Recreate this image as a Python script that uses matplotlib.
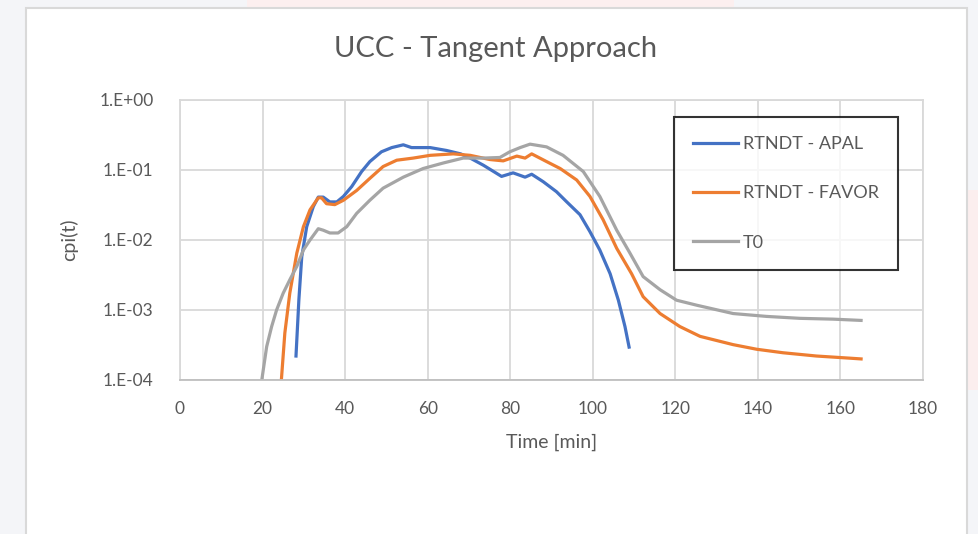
import matplotlib
matplotlib.use("Agg")
import matplotlib.pyplot as plt
from matplotlib.patches import Rectangle

plt.rcParams['font.family'] = ['Lato', 'DejaVu Sans']

# RTNDT - APAL
t_apal = [28.1, 28.8, 29.5, 30.7, 32.3, 33.5, 34.7, 36.3, 38.0, 39.6, 41.6, 44.0,
          46.0, 48.8, 51.3, 54.1, 56.1, 60.6, 64.6, 68.0, 70.3, 73.5, 77.9, 80.7,
          83.6, 85.2, 88.0, 91.2, 93.7, 96.9, 99.3, 101.7, 104.2, 106.2, 107.8, 108.8]
cpi_apal = [2.2e-4, 1.4e-3, 5.8e-3, 1.55e-2, 3.0e-2, 4.1e-2, 4.1e-2, 3.5e-2, 3.5e-2,
            4.2e-2, 5.8e-2, 9.5e-2, 1.32e-1, 1.82e-1, 2.09e-1, 2.29e-1, 2.09e-1,
            2.09e-1, 1.9e-1, 1.7e-1, 1.48e-1, 1.17e-1, 8.1e-2, 9.1e-2, 7.9e-2, 8.7e-2,
            6.8e-2, 4.9e-2, 3.5e-2, 2.3e-2, 1.32e-2, 7.2e-3, 3.3e-3, 1.38e-3, 5.8e-4,
            2.95e-4]

# RTNDT - FAVOR
t_favor = [24.5, 25.4, 26.6, 28.3, 29.9, 31.5, 33.5, 34.3, 35.5, 37.5, 39.6, 42.8,
           46.0, 49.2, 52.5, 56.5, 60.6, 66.2, 70.3, 75.1, 78.3, 81.6, 83.6, 85.2,
           88.8, 92.1, 96.1, 99.3, 102.5, 105.8, 109.4, 112.2, 116.3, 121.1, 126.0,
           134.0, 139.7, 146.1, 154.2, 162.3, 165.0]
cpi_favor = [9.0e-5, 4.7e-4, 1.74e-3, 6.5e-3, 1.55e-2, 2.7e-2, 4.0e-2, 4.0e-2, 3.3e-2,
             3.2e-2, 3.7e-2, 5.1e-2, 7.6e-2, 1.12e-1, 1.38e-1, 1.48e-1, 1.62e-1,
             1.7e-1, 1.62e-1, 1.41e-1, 1.35e-1, 1.58e-1, 1.48e-1, 1.7e-1, 1.32e-1,
             1.05e-1, 7.2e-2, 4.2e-2, 1.95e-2, 7.6e-3, 3.3e-3, 1.55e-3, 8.9e-4, 5.8e-4,
             4.2e-4, 3.2e-4, 2.75e-4, 2.45e-4, 2.2e-4, 2.05e-4, 2.0e-4]

# T0
t_t0 = [19.7, 21.0, 22.2, 23.4, 25.0, 26.6, 28.3, 29.9, 31.5, 33.5, 34.7, 36.3, 38.3,
        40.4, 42.8, 46.0, 49.2, 54.1, 58.9, 63.8, 68.6, 73.5, 77.5, 79.9, 82.4, 84.8,
        88.8, 92.8, 97.7, 101.7, 105.8, 109.0, 112.2, 116.3, 120.3, 125.2, 134.0,
        142.1, 150.2, 158.3, 165.0]
cpi_t0 = [9.0e-5, 3.0e-4, 5.8e-4, 1.0e-3, 1.74e-3, 2.7e-3, 4.2e-3, 7.2e-3, 1.0e-2,
          1.45e-2, 1.38e-2, 1.26e-2, 1.26e-2, 1.55e-2, 2.4e-2, 3.7e-2, 5.5e-2, 7.9e-2,
          1.05e-1, 1.26e-1, 1.48e-1, 1.48e-1, 1.51e-1, 1.82e-1, 2.09e-1, 2.34e-1,
          2.14e-1, 1.62e-1, 9.5e-2, 4.2e-2, 1.38e-2, 6.5e-3, 3.0e-3, 1.95e-3, 1.38e-3,
          1.17e-3, 8.9e-4, 8.1e-4, 7.6e-4, 7.4e-4, 7.1e-4]

x_ticks = [0, 20, 40, 60, 80, 100, 120, 140, 160, 180]
y_ticks = [1e-4, 1e-3, 1e-2, 1e-1, 1e0]
y_ticklabels = ['1.E-04', '1.E-03', '1.E-02', '1.E-01', '1.E+00']

W, H = 979, 534
fig = plt.figure(figsize=(W / 100, H / 100), dpi=100)
fig.patch.set_facecolor('#f4f5f8')

# faint background pieces around the chart object
fig.patches.append(Rectangle((247 / W, 1 - 8 / H), (734 - 247) / W, 8 / H,
                             transform=fig.transFigure, facecolor='#fcefef',
                             edgecolor='none', zorder=-3))
fig.patches.append(Rectangle((968 / W, 1 - 390 / H), 11 / W, 200 / H,
                             transform=fig.transFigure, facecolor='#fbeeee',
                             edgecolor='none', zorder=-3))
# chart area
fig.patches.append(Rectangle((26 / W, -0.01), (967 - 26) / W, 1 - 8 / H + 0.01,
                             transform=fig.transFigure, facecolor='white',
                             edgecolor='#d9d9d9', linewidth=1.5, zorder=-2))

ax = fig.add_axes([180 / W, 1 - 380 / H, (923 - 180) / W, 280 / H])
ax.set_facecolor('white')

ax.plot(t_apal, cpi_apal, color='#4472c4', lw=2.3, label='RTNDT - APAL')
ax.plot(t_favor, cpi_favor, color='#ed7d31', lw=2.3, label='RTNDT - FAVOR')
ax.plot(t_t0, cpi_t0, color='#a5a5a5', lw=2.3, label='T0')

ax.set_yscale('log')
ax.set_xlim(0, 180)
ax.set_ylim(1e-4, 1e0)
ax.set_xticks(x_ticks)
ax.set_yticks(y_ticks)
ax.set_yticklabels(y_ticklabels)
ax.minorticks_off()
ax.grid(True, color='#d9d9d9', lw=1.3)
ax.set_axisbelow(True)
for s in ax.spines.values():
    s.set_color('#d9d9d9')
    s.set_linewidth(1.3)
ax.spines['bottom'].set_color('#bfbfbf')
ax.tick_params(length=0, labelsize=12.5, colors='#595959')
ax.tick_params(axis='y', pad=19)
ax.tick_params(axis='x', pad=15)

ax.set_xlabel('Time [min]', fontsize=14, color='#595959', labelpad=12)
ax.set_ylabel('cpi(t)', fontsize=14, color='#595959', labelpad=15)
fig.text(496 / W, 1 - 49 / H, 'UCC - Tangent Approach', ha='center', va='center',
         fontsize=21, color='#595959')

leg = ax.legend(loc='upper left', bbox_to_anchor=((674 - 180) / 743, (380 - 117) / 280),
                frameon=True, fancybox=False, fontsize=13, labelspacing=1.85,
                handlelength=2.5, handletextpad=0.25, borderpad=1.05, borderaxespad=0)
leg.get_frame().set_edgecolor('black')
leg.get_frame().set_linewidth(1.5)
for txt in leg.get_texts():
    txt.set_color('#595959')

fig.savefig('out.png', dpi=100, facecolor=fig.get_facecolor())
